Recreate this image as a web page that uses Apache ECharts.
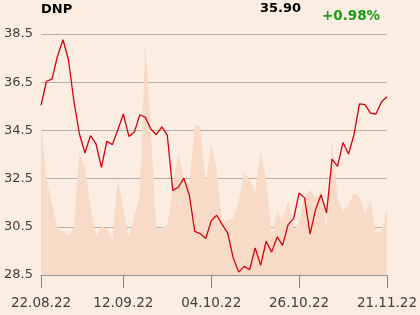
<!DOCTYPE html>
<html>
<head>
<meta charset="utf-8">
<script src="https://cdn.jsdelivr.net/npm/echarts@6/dist/echarts.min.js"></script>
<style>
html,body{margin:0;padding:0;background:#fbede1;}
#c{width:420px;height:315px;}
</style>
</head>
<body>
<div id="c"></div>
<script>
var dates = ["22.08.22","23.08.22","24.08.22","25.08.22","26.08.22","29.08.22","30.08.22","31.08.22",
"01.09.22","02.09.22","05.09.22","06.09.22","07.09.22","08.09.22","09.09.22","12.09.22",
"13.09.22","14.09.22","15.09.22","16.09.22","19.09.22","20.09.22","21.09.22","22.09.22","23.09.22",
"26.09.22","27.09.22","28.09.22","29.09.22","30.09.22","03.10.22","04.10.22",
"05.10.22","06.10.22","07.10.22","10.10.22","11.10.22","12.10.22","13.10.22","14.10.22",
"17.10.22","18.10.22","19.10.22","20.10.22","21.10.22","24.10.22","25.10.22","26.10.22",
"27.10.22","28.10.22","31.10.22","02.11.22","03.11.22","04.11.22","07.11.22","08.11.22",
"09.11.22","10.11.22","14.11.22","15.11.22","16.11.22","17.11.22","18.11.22","21.11.22"];

var prices = [35.54,36.54,36.63,37.57,38.26,37.43,35.70,34.35,33.56,34.28,33.95,32.97,34.05,33.91,34.53,35.18,
34.25,34.43,35.15,35.04,34.56,34.32,34.65,34.30,32.01,32.14,32.52,31.83,30.31,30.22,30.01,30.75,
30.98,30.59,30.24,29.21,28.62,28.86,28.72,29.62,28.90,29.90,29.45,30.08,29.73,30.59,30.84,31.90,
31.70,30.20,31.21,31.83,31.07,33.31,33.01,34.00,33.52,34.32,35.60,35.57,35.22,35.18,35.68,35.90];

var volumes = [151,95,72,46,44,39,48,123,105,70,38,49,46,35,96,67,
38,59,80,232,145,45,47,50,87,123,97,90,150,148,90,132,
105,53,55,57,75,102,95,83,124,97,39,63,55,74,44,53,
78,85,77,85,46,133,77,64,70,82,78,61,74,42,44,67];

var labelIdx = [0,15,31,47,63];
var yTicks = [28.5,30.5,32.5,34.5,36.5,38.5];
var ticker = "DNP";
var lastPrice = "35.90";
var change = "+0.98%";

var chart = echarts.init(document.getElementById('c'));
var showIdx = function(i){ return labelIdx.indexOf(i) >= 0; };
chart.setOption({
  backgroundColor: '#fbede1',
  animation: false,
  textStyle: {fontFamily: 'DejaVu Sans'},
  grid: {left: 41, right: 33, top: 34, bottom: 40},
  xAxis: {
    type: 'category',
    data: dates,
    boundaryGap: false,
    axisLine: {lineStyle: {color: '#9a9390', width: 1}},
    axisTick: {show: true, interval: showIdx, length: 13, lineStyle: {color: '#8a8380'}},
    axisLabel: {interval: showIdx, margin: 21, fontSize: 13.5, color: '#404040', fontFamily: 'DejaVu Sans'},
    splitLine: {show: false}
  },
  yAxis: [{
    type: 'value',
    min: yTicks[0],
    max: yTicks[yTicks.length - 1],
    interval: 2,
    axisLine: {show: false},
    axisTick: {show: false},
    axisLabel: {margin: 8, fontSize: 13, color: '#404040', fontFamily: 'DejaVu Sans',
      formatter: function(v){ return v.toFixed(1); }},
    splitLine: {lineStyle: {color: '#b7b0aa', width: 1}}
  }, {
    type: 'value',
    min: 0,
    max: 241,
    show: false,
    splitLine: {show: false}
  }],
  series: [{
    type: 'line',
    yAxisIndex: 1,
    data: volumes,
    symbol: 'none',
    lineStyle: {width: 0},
    areaStyle: {color: '#f7dbc6', opacity: 1},
    z: 1
  }, {
    type: 'line',
    yAxisIndex: 0,
    data: prices,
    symbol: 'none',
    lineStyle: {color: '#d9000f', width: 1.3},
    z: 3
  }],
  graphic: [
    {type: 'text', left: 41, top: 3, style: {text: ticker, font: 'bold 13px "DejaVu Sans"', fill: '#000'}},
    {type: 'text', left: 260, top: 2, style: {text: lastPrice, font: 'bold 13px "DejaVu Sans"', fill: '#000'}},
    {type: 'text', left: 322, top: 9, style: {text: change, font: 'bold 13.5px "DejaVu Sans"', fill: '#1a9e1a'}}
  ]
});
</script>
</body>
</html>
